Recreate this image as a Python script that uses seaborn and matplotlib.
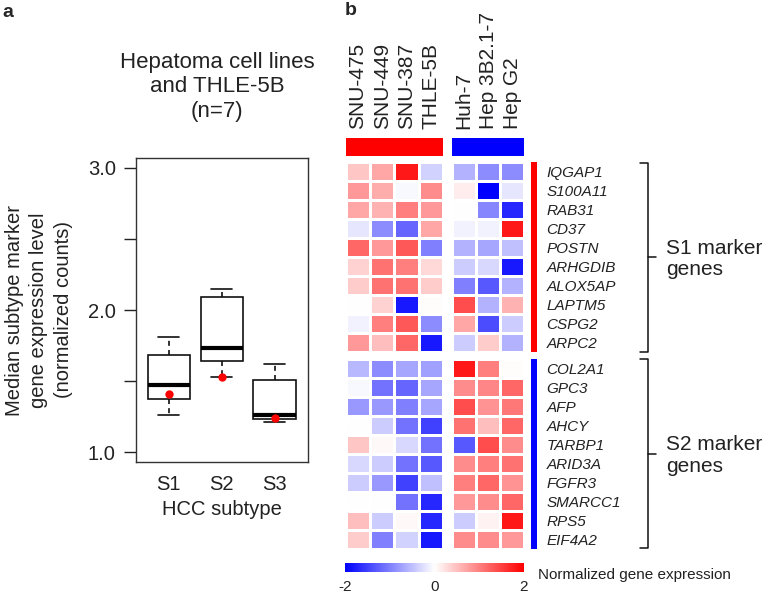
import numpy as np
import pandas as pd
import matplotlib
matplotlib.use('Agg')
import matplotlib.pyplot as plt
import seaborn as sns

# cell lines (columns of the heatmap, also the 7 points in each box)
cell_lines = ['SNU-475', 'SNU-449', 'SNU-387', 'THLE-5B', 'Huh-7', 'Hep 3B2.1-7', 'Hep G2']
subtypes = ['S1', 'S2', 'S3']
highlight = 'THLE-5B'

# median marker gene expression per cell line (same order as cell_lines)
s1_median = [1.62, 1.74, 1.81, 1.41, 1.33, 1.47, 1.26]
s2_median = [1.60, 1.68, 1.73, 1.53, 2.15, 2.05, 2.14]
s3_median = [1.44, 1.26, 1.23, 1.24, 1.62, 1.58, 1.21]

# column groups: +1 -> red bar, -1 -> blue bar
col_group = [1, 1, 1, 1, -1, -1, -1]

s1_genes = ['IQGAP1', 'S100A11', 'RAB31', 'CD37', 'POSTN', 'ARHGDIB', 'ALOX5AP',
            'LAPTM5', 'CSPG2', 'ARPC2']
s2_genes = ['COL2A1', 'GPC3', 'AFP', 'AHCY', 'TARBP1', 'ARID3A', 'FGFR3',
            'SMARCC1', 'RPS5', 'EIF4A2']

s1_expr = [
    [0.45, 0.70, 1.80, -0.35, -0.60, -0.90, -0.90],
    [0.80, 0.65, -0.05, 0.90, 0.15, -2.00, -0.20],
    [0.70, 0.60, 1.00, 0.80, 0.00, -0.95, -1.70],
    [-0.20, -0.90, -1.20, 0.70, -0.10, -0.10, 1.80],
    [1.20, 0.80, 1.30, -1.00, -0.60, -0.70, -0.50],
    [0.35, 1.10, 1.00, 0.30, -0.40, -0.30, -1.80],
    [0.40, 1.10, 1.10, 0.40, -1.00, -1.30, -0.60],
    [0.00, 0.35, -1.80, 0.02, 1.40, -0.60, 0.60],
    [-0.10, 1.00, 1.30, -0.90, 0.70, -1.40, -0.40],
    [0.80, 0.50, 1.20, -1.80, -0.40, 0.40, -0.60],
]
s2_expr = [
    [-0.55, -0.90, -0.70, -0.75, 1.80, 1.00, 0.03],
    [-0.05, -1.10, -1.20, -0.70, 0.90, 0.95, 1.20],
    [-0.80, -0.80, -1.00, -0.70, 1.40, 0.85, 1.05],
    [0.00, -0.40, -1.10, -1.50, 1.10, 0.50, 1.20],
    [0.45, 0.05, -0.30, -1.10, -1.30, 1.40, 0.90],
    [-0.30, -0.40, -1.10, -1.30, 0.90, 1.00, 1.10],
    [-0.40, -0.80, -1.50, -0.50, 1.00, 1.20, 0.85],
    [0.00, 0.00, -1.10, -1.70, 0.80, 0.90, 1.20],
    [0.50, -0.40, 0.05, -1.70, -0.40, 0.10, 1.80],
    [0.40, -1.00, -0.35, -1.80, 0.90, 0.90, 0.80],
]

sns.set_theme(style='white')
plt.rcParams['font.family'] = ['Liberation Sans', 'DejaVu Sans']
plt.rcParams['axes.unicode_minus'] = False

W, H = 764, 593
fig = plt.figure(figsize=(W / 100, H / 100), dpi=100)


def box(x0, y0, x1, y1):
    # pixel box (top-left origin) -> figure fraction rect
    return [x0 / W, 1 - y1 / H, (x1 - x0) / W, (y1 - y0) / H]


# ---------------- panel a: boxplot ----------------
df = pd.DataFrame({
    'cell': cell_lines * 3,
    'subtype': np.repeat(subtypes, len(cell_lines)),
    'value': s1_median + s2_median + s3_median,
})

ax = fig.add_axes(box(136, 158, 308, 462))
sns.boxplot(data=df, x='subtype', y='value', order=subtypes, width=0.8,
            color='white', linecolor='#111111', linewidth=1.2, showfliers=False,
            whiskerprops=dict(linestyle=(0, (3, 2.5))),
            capprops=dict(linestyle='-'),
            medianprops=dict(linewidth=3, color='black'), ax=ax)
sns.stripplot(data=df[df['cell'] == highlight], x='subtype', y='value', order=subtypes,
              jitter=False, color='red', size=6, linewidth=0, ax=ax, zorder=5)
ax.set_xlim(-0.62, 2.63)
ax.set_ylim(0.93, 3.07)
ax.set_yticks([1.0, 1.5, 2.0, 2.5, 3.0])
ax.set_yticklabels(['1.0', '', '2.0', '', '3.0'])
ax.tick_params(axis='y', direction='out', length=8.5, width=1, color='#222222',
               labelsize=14.5, pad=6, left=True, labelcolor='#222222')
ax.tick_params(axis='x', length=0, labelsize=14.5, pad=9, labelcolor='#222222')
for s in ax.spines.values():
    s.set_visible(True)
    s.set_color('#333333')
    s.set_linewidth(1)
ax.set_xlabel('HCC subtype', fontsize=14.5, labelpad=5, color='#222222')
ax.set_ylabel('Median subtype marker\ngene expression level\n(normalized counts)',
              fontsize=14.5, labelpad=11, color='#222222', linespacing=1.35)

fig.text(217 / W, 1 - 87 / H, 'Hepatoma cell lines\nand THLE-5B\n(n=7)', fontsize=16,
         ha='center', va='center', linespacing=1.22, color='#222222')

# ---------------- panel b: heatmap ----------------
hm_kw = dict(cmap='bwr', vmin=-2, vmax=2, cbar=False, linewidths=1, linecolor='white')
xl = (345.7, 443.0)
xr = (451.7, 524.3)
y1 = (162.3, 352.3)
y2 = (359.3, 549.3)
nl = col_group.count(1)

s1 = np.array(s1_expr)
s2 = np.array(s2_expr)
blocks = [(s1, s1_genes, y1), (s2, s2_genes, y2)]
hm_axes = []
for expr, genes, (ya, yb) in blocks:
    axl = fig.add_axes(box(xl[0], ya, xl[1], yb))
    sns.heatmap(expr[:, :nl], ax=axl, xticklabels=False, yticklabels=False, **hm_kw)
    axr = fig.add_axes(box(xr[0], ya, xr[1], yb))
    sns.heatmap(expr[:, nl:], ax=axr, xticklabels=False, yticklabels=genes, **hm_kw)
    axr.yaxis.tick_right()
    axr.tick_params(axis='y', length=0, pad=16, labelsize=11, labelcolor='#222222')
    for lbl in axr.get_yticklabels():
        lbl.set_rotation(0)
        lbl.set_fontstyle('italic')
    hm_axes.append(axl)
    # side colour bar for the gene group
    grp = 1 if genes is s1_genes else -1
    axs = fig.add_axes(box(531, ya, 537.3, yb))
    sns.heatmap(np.full((len(genes), 1), grp), ax=axs, cmap='bwr', vmin=-1, vmax=1,
                cbar=False, xticklabels=False, yticklabels=False)

# top colour bars with column labels
grp_arr = np.array([col_group])
for (xa, xb), sl in [(xl, slice(0, nl)), (xr, slice(nl, None))]:
    axt = fig.add_axes(box(xa, 138.3, xb, 156))
    sns.heatmap(grp_arr[:, sl], ax=axt, cmap='bwr', vmin=-1, vmax=1, cbar=False,
                xticklabels=cell_lines[sl], yticklabels=False)
    axt.xaxis.tick_top()
    axt.tick_params(axis='x', length=0, pad=7, labelsize=15, labelcolor='#222222')
    for lbl in axt.get_xticklabels():
        lbl.set_rotation(90)

# colour scale
cax = fig.add_axes(box(345, 563.3, 524, 571.7))
cb = fig.colorbar(hm_axes[0].collections[0], cax=cax, orientation='horizontal',
                  ticks=[-2, 0, 2])
cb.outline.set_visible(False)
cax.tick_params(length=0, labelsize=11, pad=6, labelcolor='#222222')
fig.text(538 / W, 1 - 575.5 / H, 'Normalized gene expression', fontsize=11,
         va='center', ha='left', color='#222222')

# brackets and annotations
ov = fig.add_axes([0, 0, 1, 1])
ov.set_xlim(0, W)
ov.set_ylim(H, 0)
ov.axis('off')
for top, bot, mid, txt in [(163.3, 351.7, 257, 'S1 marker\ngenes'),
                           (359, 548, 453.5, 'S2 marker\ngenes')]:
    ov.plot([640, 647.7, 647.7, 640], [top, top, bot, bot], color='#111111', lw=1.1)
    ov.plot([647.7, 656], [mid, mid], color='#111111', lw=1.1)
    ov.text(666, mid + 2, txt, fontsize=15, ha='left', va='center',
            linespacing=1.15, color='#222222')

fig.text(2 / W, 1 - 4 / H, 'a', fontsize=14, fontweight='bold', va='top')
fig.text(345 / W, 1 - 2 / H, 'b', fontsize=14, fontweight='bold', va='top')

fig.savefig('out.png', dpi=100)
